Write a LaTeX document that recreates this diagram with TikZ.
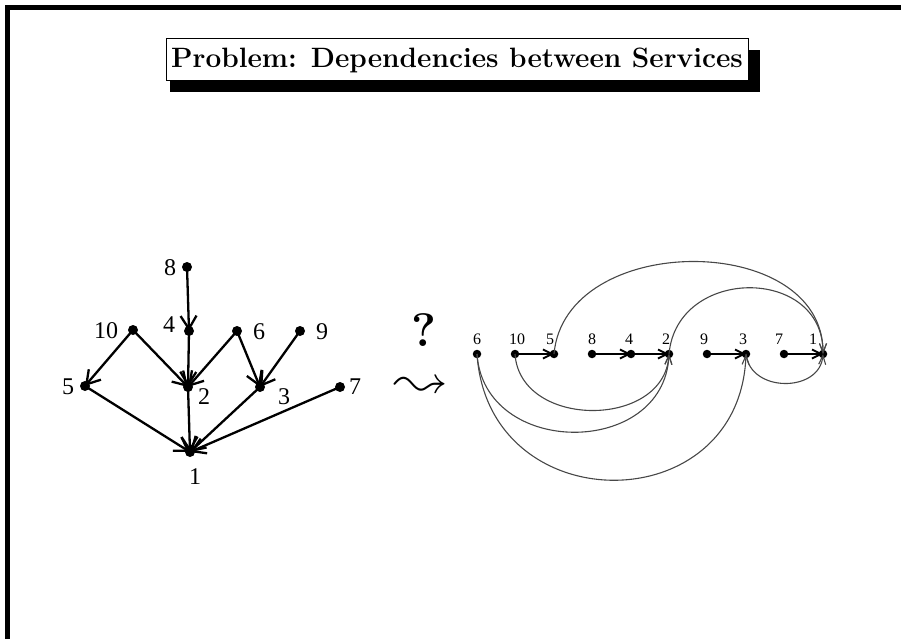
\documentclass[tikz,border=0pt]{standalone}
\usepackage{fontspec}
\usepackage{latexsym}
\usepackage{graphicx}
\usetikzlibrary{arrows.meta}
\newfontfamily\tms{Liberation Serif}
\begin{document}
\begin{tikzpicture}[x=1pt,y=-1pt,
 dotL/.style={circle,fill=black,inner sep=0pt,minimum size=10pt},
 dotR/.style={circle,fill=black,inner sep=0pt,minimum size=8.5pt},
 labL/.style={font=\tms\fontsize{24}{26}\selectfont,inner sep=0pt},
 labR/.style={font=\tms\fontsize{16}{18}\selectfont,inner sep=0pt},
 edgeL/.style={line width=2.3pt,-{Straight Barb[length=13pt,width=16pt]}},
 edgeR/.style={line width=1.8pt,-{Straight Barb[length=9pt,width=9pt]}},
 arcR/.style={line width=1.1pt,draw=black!72,-{Straight Barb[length=9pt,width=7pt]}},
]
\useasboundingbox (0,0) rectangle (901,639);
% frame
\fill (5,5) rectangle (901,10);
\fill (5,5) rectangle (10,639);
% title with shadow
\fill (170,81) rectangle (760,92);
\fill (748,50) rectangle (760,92);
\node[draw,line width=1pt,fill=white,minimum width=582pt,minimum height=42pt,inner sep=0pt,
  font=\fontsize{28}{32}\selectfont\bfseries] (title) at (457,60) {Problem: Dependencies between Services};
% question and leadsto
\node[font=\fontsize{47}{56}\selectfont\bfseries,inner sep=0pt] (q) at (424,330) {?};
\node[inner sep=0pt,anchor=base] (lt) at (421,397) {\scalebox{5.3}{\raisebox{0pt}[4.6pt][0pt]{$\leadsto$}}};
% left graph
\node[dotL] (L8) at (187,267) {};
\node[dotL] (L4) at (189,331) {};
\node[dotL] (L10) at (133,330) {};
\node[dotL] (L6) at (237,331) {};
\node[dotL] (L9) at (300,331) {};
\node[dotL] (L5) at (85,386) {};
\node[dotL] (L2) at (188,387) {};
\node[dotL] (L3) at (260,387) {};
\node[dotL] (L7) at (340,387) {};
\node[dotL] (L1) at (190,452) {};
\node[labL] (t8) at (170,268) {8};
\node[labL] (t4) at (169,325) {4};
\node[labL] (t10) at (106,331) {10};
\node[labL] (t6) at (259,332) {6};
\node[labL] (t9) at (322,332) {9};
\node[labL] (t5) at (68,387) {5};
\node[labL] (t2) at (204,397) {2};
\node[labL] (t3) at (284,397) {3};
\node[labL] (t7) at (355,387) {7};
\node[labL] (t1) at (195,477) {1};
\draw[edgeL] (L8.center) -- (L4.center);
\draw[edgeL] (L4.center) -- (L2.center);
\draw[edgeL] (L10.center) -- (L5.center);
\draw[edgeL] (L10.center) -- (L2.center);
\draw[edgeL] (L6.center) -- (L2.center);
\draw[edgeL] (L6.center) -- (L3.center);
\draw[edgeL] (L9.center) -- (L3.center);
\draw[edgeL] (L5.center) -- (L1.center);
\draw[edgeL] (L2.center) -- (L1.center);
\draw[edgeL] (L3.center) -- (L1.center);
\draw[edgeL] (L7.center) -- (L1.center);
% right graph
\node[dotR] (R6) at (477,354) {};
\node[dotR] (R10) at (515,354) {};
\node[dotR] (R5) at (554,354) {};
\node[dotR] (R8) at (592,354) {};
\node[dotR] (R4) at (631,354) {};
\node[dotR] (R2) at (669,354) {};
\node[dotR] (R9) at (707,354) {};
\node[dotR] (R3) at (746,354) {};
\node[dotR] (R7) at (784,354) {};
\node[dotR] (R1) at (823,354) {};
\node[labR] (s6) at (477,339) {6};
\node[labR] (s10) at (517,339) {10};
\node[labR] (s5) at (550,339) {5};
\node[labR] (s8) at (592,339) {8};
\node[labR] (s4) at (629,339) {4};
\node[labR] (s2) at (666,339) {2};
\node[labR] (s9) at (704,339) {9};
\node[labR] (s3) at (743,339) {3};
\node[labR] (s7) at (779,339) {7};
\node[labR] (s1) at (813,339) {1};
\draw[edgeR] (R10.center) -- (R5.center);
\draw[edgeR] (R8.center) -- (R4.center);
\draw[edgeR] (R4.center) -- (R2.center);
\draw[edgeR] (R9.center) -- (R3.center);
\draw[edgeR] (R7.center) -- (R1.center);
% arcs above
\draw[arcR] (R5.center) .. controls (565,231) and (823,231) .. (R1.center);
\draw[arcR] (R2.center) .. controls (677,266) and (823,266) .. (R1.center);
% arcs below
\draw[arcR] (R10.center) .. controls (520,429) and (664,429) .. (R2.center);
\draw[arcR] (R6.center) .. controls (484,458) and (664,458) .. (R2.center);
\draw[arcR] (R6.center) .. controls (488,522) and (740,522) .. (R3.center);
\draw[arcR] (R3.center) .. controls (750,393) and (820,393) .. (R1.center);
\end{tikzpicture}
\end{document}
